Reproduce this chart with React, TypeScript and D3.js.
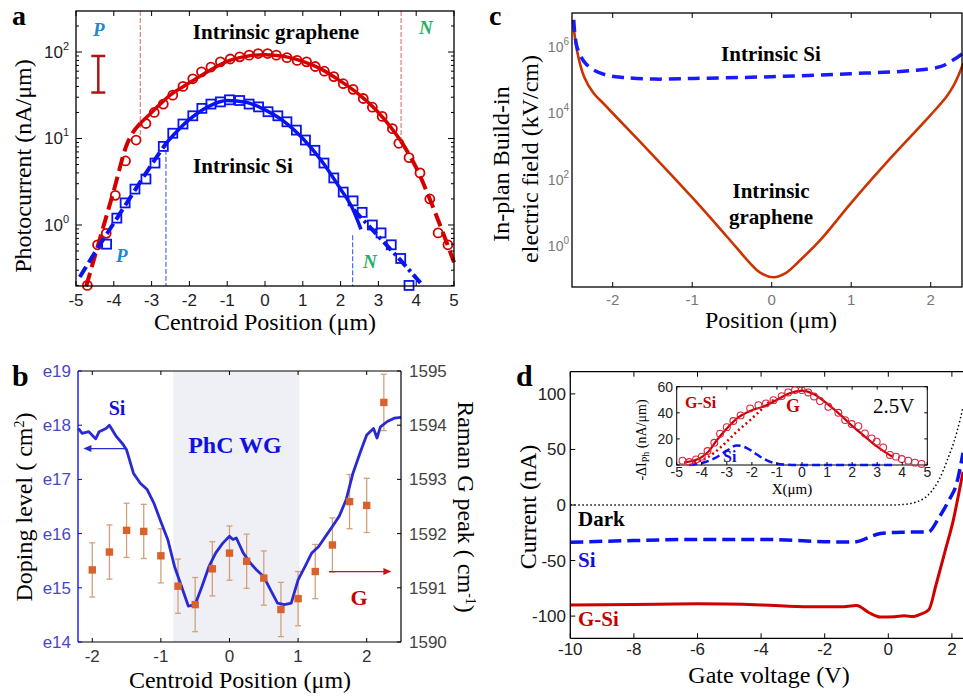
import React from "react";
import * as d3 from "d3";

const SERIF = "'Liberation Serif', 'Times New Roman', serif";
const SANS = "'Liberation Sans', Arial, sans-serif";

// ---------- panel a : photocurrent vs centroid position ----------
const aGrX = [-4.70, -4.43, -4.2, -3.96, -3.69, -3.41, -3.15, -2.93, -2.69, -2.44, -2.17, -1.91, -1.68, -1.43, -1.18, -0.92, -0.67, -0.42, -0.18, 0.07, 0.30, 0.58, 0.85, 1.10, 1.33, 1.57, 1.82, 2.07, 2.33, 2.60, 2.84, 3.10, 3.37, 3.54, 3.81, 4.10, 4.36, 4.58, 4.84];
const aGrY = [0.2, 0.59, 0.8, 2.2, 5.5, 9.6, 14.9, 20, 25, 31.7, 40, 49, 59, 67, 77, 83, 88, 92, 96, 96, 92, 86, 80, 77, 68, 60, 52, 43, 37, 29, 23, 18, 13, 8.8, 6.0, 4.0, 2.0, 0.81, 0.59];
const aSiX = [-4.19, -3.92, -3.70, -3.44, -3.15, -2.91, -2.69, -2.44, -2.17, -1.91, -1.67, -1.43, -1.18, -0.94, -0.67, -0.42, -0.17, 0.08, 0.34, 0.58, 0.83, 1.07, 1.32, 1.56, 1.82, 2.07, 2.33, 2.57, 2.84, 3.07, 3.34, 3.59, 3.81];
const aSiY = [0.6, 1.2, 1.8, 2.6, 3.4, 5.2, 8.1, 11.5, 14.7, 18.3, 22.3, 25, 26.5, 28, 27.5, 25, 23.2, 20.4, 18.3, 15.6, 12.5, 9.6, 7.3, 5.2, 3.5, 2.4, 1.9, 1.4, 1.0, 0.81, 0.59, 0.41, 0.2];
// fits (left dashed, solid, right dashed)
const aGrFitLX = [-4.73, -4.4, -4.0, -3.66, -3.3];
const aGrFitLY = [0.195, 0.62, 2.5, 8.4, 15];
const aGrFitX = [-3.3, -3.0, -2.5, -2.0, -1.5, -1.0, -0.5, 0, 0.5, 1.0, 1.5, 2.0, 2.5, 3.0, 3.3, 3.6];
const aGrFitY = [15, 20, 32, 44, 60, 78, 89, 93, 89, 78, 63, 46, 32, 20, 14, 9.3];
const aGrFitRX = [3.6, 4.0, 4.5, 5.0];
const aGrFitRY = [9.3, 4.6, 1.4, 0.37];
const aSiFitLX = [-4.9, -4.5, -4.0, -3.5, -3.0, -2.6];
const aSiFitLY = [0.25, 0.48, 1.05, 2.3, 5.0, 9.0];
const aSiFitX = [-2.6, -2.0, -1.5, -1.0, -0.5, 0, 0.5, 1.0, 1.5, 2.0, 2.3, 2.54];
const aSiFitY = [9.0, 16.6, 23.4, 27.5, 26.3, 21.4, 15.8, 10, 5.5, 2.6, 1.6, 0.89];
const aSiFitRX = [2.35, 3.0, 3.5, 4.13];
const aSiFitRY = [1.5, 0.74, 0.43, 0.21];
const aXTicks = [-5, -4, -3, -2, -1, 0, 1, 2, 3, 4, 5];
const aYTicks = [1, 10, 100];

// ---------- panel b : doping level and Raman G peak ----------
const bSiX = [-2.2, -2.15, -2.05, -1.95, -1.9, -1.8, -1.75, -1.65, -1.55, -1.5, -1.4, -1.3, -1.2, -1.1, -1.0, -0.9, -0.8, -0.7, -0.6, -0.5, -0.4, -0.3, -0.2, -0.1, 0, 0.05, 0.1, 0.2, 0.3, 0.4, 0.5, 0.6, 0.7, 0.8, 0.9, 1.0, 1.1, 1.2, 1.3, 1.4, 1.5, 1.6, 1.7, 1.8, 1.9, 2.0, 2.1, 2.15, 2.2, 2.3, 2.4, 2.5];
const bSiY = [8.7e17, 7.1e17, 7.6e17, 5.6e17, 7.6e17, 8.7e17, 1e18, 6.2e17, 4.4e17, 3.5e17, 1.3e17, 8.5e16, 6.5e16, 3.6e16, 1.66e16, 7.8e15, 2.45e15, 1.07e15, 4.6e14, 4.9e14, 1.07e15, 2.45e15, 4.4e15, 6.6e15, 8.9e15, 7.8e15, 8.3e15, 4.4e15, 2.9e15, 2.1e15, 1.6e15, 9.1e14, 5.2e14, 4.9e14, 5.2e14, 1.4e15, 2.45e15, 4.4e15, 5.8e15, 8.9e15, 1.35e16, 2.1e16, 4.2e16, 1.3e17, 3.0e17, 6.6e17, 8.7e17, 5.8e17, 9.3e17, 1.17e18, 1.35e18, 1.4e18];
const bGX = [-2, -1.75, -1.5, -1.25, -1, -0.75, -0.5, -0.25, 0, 0.25, 0.5, 0.75, 1, 1.25, 1.5, 1.75, 2, 2.25];
const bGY = [1591.33, 1591.66, 1592.06, 1592.04, 1591.59, 1591.03, 1590.69, 1591.35, 1591.64, 1591.49, 1591.18, 1590.60, 1590.80, 1591.30, 1591.79, 1592.59, 1592.52, 1594.42];
const bGErr = [0.5, 0.5, 0.5, 0.5, 0.5, 0.5, 0.5, 0.5, 0.5, 0.5, 0.5, 0.5, 0.5, 0.5, 0.5, 0.5, 0.5, 0.52];
const bShade = [-0.82, 1.02];
const bXTicks = [-2, -1, 0, 1, 2];
const bLeftTicks = [1e14, 1e15, 1e16, 1e17, 1e18, 1e19];
const bLeftLabels = ["e14", "e15", "e16", "e17", "e18", "e19"];
const bRightTicks = [1590, 1591, 1592, 1593, 1594, 1595];

// ---------- panel c : build-in electric field ----------
const cGrX = [-2.5, -2.45, -2.36, -2.24, -2.11, -2.0, -1.5, -1.0, -0.57, -0.27, -0.15, 0.02, 0.17, 0.36, 0.61, 1.0, 1.5, 2.0, 2.2, 2.28, 2.35, 2.41];
const cGrY = [6.5e6, 7.9e5, 1.26e5, 4.0e4, 1.9e4, 1.0e4, 560, 29, 2.0, 0.30, 0.16, 0.115, 0.15, 0.38, 1.5, 20, 457, 8.9e3, 3.2e4, 6.3e4, 1.4e5, 3.2e5];
const cSiX = [-2.49, -2.45, -2.36, -2.24, -2.07, -1.86, -1.48, -0.98, 0, 0.99, 1.79, 2.13, 2.28, 2.41];
const cSiY = [6.5e6, 1e6, 3.6e5, 2e5, 1.4e5, 1.2e5, 1.07e5, 1.12e5, 1.26e5, 1.55e5, 1.95e5, 2.57e5, 4e5, 6.5e5];
const cXTicks = [-2, -1, 0, 1, 2];
const cYTicks = [1, 100, 1e4, 1e6];
const cYExp = ["0", "2", "4", "6"];

// ---------- panel d : current vs gate voltage ----------
const dDarkX = [-10, -6, -2, 0, 0.4, 0.9, 1.35, 1.6, 1.85, 2.15, 2.35];
const dDarkY = [0, 0, 0, 0, 0.3, 2.9, 12, 23, 40, 65, 88];
const dSiX = [-10, -8, -6, -4, -2, -1.5, -1.0, -0.6, -0.25, 0, 0.5, 1.0, 1.25, 1.6, 1.9, 2.15, 2.35];
const dSiY = [-33.6, -32, -31, -31, -33, -33.3, -33, -29, -25.6, -25, -24.5, -24.3, -24.3, -11, 4, 19.5, 47];
const dGSiX = [-10, -8, -6, -4, -2.5, -1.5, -1.0, -0.6, -0.25, 0.2, 0.5, 0.8, 1.0, 1.28, 1.5, 1.8, 2.05, 2.2, 2.35];
const dGSiY = [-90, -89.5, -89, -90, -91.6, -91.6, -90.5, -97, -100.8, -100.5, -99.8, -100.3, -98.5, -94, -72, -40, -13, 8, 30];
const dXTicks = [-10, -8, -6, -4, -2, 0, 2];
const dYTicks = [-100, -50, 0, 50, 100];
// inset
const iCircX = [-4.77, -4.5, -4.23, -4.0, -3.77, -3.5, -3.27, -3.0, -2.74, -2.45, -2.07, -1.74, -1.44, -1.14, -0.81, -0.55, -0.28, -0.01, 0.25, 0.48, 0.72, 1.05, 1.45, 1.72, 1.98, 2.25, 2.51, 2.78, 2.98, 3.24, 3.51, 3.75, 3.98, 4.24, 4.51, 4.77];
const iCircY = [3.3, 2.3, 4.3, 6.4, 10.7, 17, 24, 29, 33.7, 38, 43.4, 45.9, 47.2, 49.7, 52.8, 55.6, 57.4, 57.4, 55.6, 52.5, 49, 44.6, 40, 34.4, 31.4, 29.8, 24.2, 20.4, 17.9, 13.5, 7.7, 6.4, 4.6, 3.3, 1.8, 0.8];
const iFitX = [-4.7, -4.3, -4.0, -3.7, -3.4, -3.0, -2.5, -2.0, -1.5, -1.0, -0.5, 0, 0.5, 1.0, 1.5, 2.0, 2.5, 3.0, 3.3, 3.6];
const iFitY = [2, 3.5, 6, 11, 19, 28, 37, 42, 45, 50, 55, 57, 54, 47, 39, 30, 22, 14, 10, 6.5];
const iGX = [-4.3, -3.9, -3.54, -3.0, -2.74, -2.4, -2.07, -1.7, -1.28, -1.0];
const iGY = [2, 4.5, 8.9, 18, 23, 29, 34.4, 41, 48.5, 50];
const iSiX = [-4.5, -4.0, -3.5, -3.0, -2.6, -2.2, -1.8, -1.4, -1.0, -0.6, 0, 1, 2, 3, 3.7];
const iSiY = [0, 1.5, 5, 11, 15, 13, 8, 3.5, 1, 0.3, 0, 0, 0, 0, 0];
const iXTicks = [-5, -4, -3, -2, -1, 0, 1, 2, 3, 4, 5];
const iYTicks = [0, 20, 40, 60];

type Pt = [number, number];
const pts = (xs: number[], ys: number[]) => d3.zip(xs, ys) as Pt[];
const mkLine = (x: any, y: any, curve: any = d3.curveMonotoneX) =>
  d3.line<Pt>().x((d) => x(d[0])).y((d) => y(d[1])).curve(curve);

function PanelA() {
  const L = 76, R = 454, T = 11, B = 286;
  const x = d3.scaleLinear().domain([-5, 5]).range([L, R]);
  const y = d3.scaleLog().domain([0.197, 298]).range([B, T]);
  const ln = mkLine(x, y);
  const minor: number[] = [];
  for (let k = -1; k <= 2; k++)
    for (let m = 2; m <= 9; m++) {
      const v = m * Math.pow(10, k);
      if (v > 0.197 && v < 298) minor.push(v);
    }
  const red = "#d40000";
  const blue = "#0a14f0";
  return (
    <g>
      <text x={12} y={25} fontFamily={SERIF} fontWeight="bold" fontSize={28}>a</text>
      {/* vertical guide lines */}
      <line x1={x(-3.3)} x2={x(-3.3)} y1={T} y2={y(10)} stroke="#e06060" strokeWidth={1} strokeDasharray="5,2" />
      <line x1={x(3.6)} x2={x(3.6)} y1={T} y2={y(10)} stroke="#e06060" strokeWidth={1} strokeDasharray="5,2" />
      <line x1={x(-2.62)} x2={x(-2.62)} y1={y(8.9)} y2={B} stroke="#3344ee" strokeWidth={1} strokeDasharray="5,2" />
      <line x1={x(2.32)} x2={x(2.32)} y1={y(0.76)} y2={B} stroke="#3344ee" strokeWidth={1} strokeDasharray="5,2" />
      {/* error bar */}
      <g stroke="#b01515" strokeWidth={2.5}>
        <line x1={x(-4.41)} x2={x(-4.41)} y1={y(90)} y2={y(34)} />
        <line x1={x(-4.41) - 7} x2={x(-4.41) + 7} y1={y(90)} y2={y(90)} />
        <line x1={x(-4.41) - 7} x2={x(-4.41) + 7} y1={y(34)} y2={y(34)} />
      </g>
      {/* markers */}
      {pts(aGrX, aGrY).map((d, i) => (
        <circle key={"c" + i} cx={x(d[0])} cy={y(d[1])} r={4.5} fill="none" stroke={red} strokeWidth={1.8} />
      ))}
      {pts(aSiX, aSiY).map((d, i) => (
        <rect key={"s" + i} x={x(d[0]) - 4.5} y={y(d[1]) - 4.5} width={9} height={9} fill="none" stroke={blue} strokeWidth={1.8} />
      ))}
      {/* fits */}
      <path d={ln(pts(aGrFitX, aGrFitY)) || ""} fill="none" stroke={red} strokeWidth={3.5} />
      <path d={ln(pts(aGrFitLX, aGrFitLY)) || ""} fill="none" stroke={red} strokeWidth={4} strokeDasharray="14,6" />
      <path d={ln(pts(aGrFitRX, aGrFitRY)) || ""} fill="none" stroke={red} strokeWidth={4} strokeDasharray="14,6" />
      <path d={ln(pts(aSiFitX, aSiFitY)) || ""} fill="none" stroke={blue} strokeWidth={3.5} />
      <path d={ln(pts(aSiFitLX, aSiFitLY)) || ""} fill="none" stroke={blue} strokeWidth={4} strokeDasharray="12,5" />
      <path d={ln(pts(aSiFitRX, aSiFitRY)) || ""} fill="none" stroke={blue} strokeWidth={4} strokeDasharray="11,4,3,4" />
      {/* frame & ticks */}
      <rect x={L} y={T} width={R - L} height={B - T} fill="none" stroke="#000" strokeWidth={1.3} />
      {aXTicks.map((t) => (
        <g key={"xt" + t}>
          <line x1={x(t)} x2={x(t)} y1={B} y2={B - 5} stroke="#000" />
          <line x1={x(t)} x2={x(t)} y1={T} y2={T + 5} stroke="#000" />
          <text x={x(t)} y={306} textAnchor="middle" fontFamily={SANS} fontSize={17} fill="#222">{t}</text>
        </g>
      ))}
      {aYTicks.map((t, i) => (
        <g key={"yt" + t}>
          <line x1={L} x2={L + 6} y1={y(t)} y2={y(t)} stroke="#000" />
          <line x1={R} x2={R - 6} y1={y(t)} y2={y(t)} stroke="#000" />
          <text x={69} y={y(t) + 6} textAnchor="end" fontFamily={SANS} fontSize={17} fill="#222">
            10<tspan dy={-8} fontSize={11}>{i}</tspan>
          </text>
        </g>
      ))}
      {minor.map((t) => (
        <g key={"mt" + t}>
          <line x1={L} x2={L + 3} y1={y(t)} y2={y(t)} stroke="#000" />
          <line x1={R} x2={R - 3} y1={y(t)} y2={y(t)} stroke="#000" />
        </g>
      ))}
      {/* labels */}
      <text transform="translate(31,166) rotate(-90)" textAnchor="middle" fontFamily={SERIF} fontSize={24}>Photocurrent (nA/μm)</text>
      <text x={265} y={330} textAnchor="middle" fontFamily={SERIF} fontSize={24}>Centroid Position (μm)</text>
      <text x={276} y={39} textAnchor="middle" fontFamily={SERIF} fontWeight="bold" fontSize={21}>Intrinsic graphene</text>
      <text x={243} y={173} textAnchor="middle" fontFamily={SERIF} fontWeight="bold" fontSize={21}>Intrinsic Si</text>
      <text x={93} y={36} fontFamily={SERIF} fontWeight="bold" fontStyle="italic" fontSize={19} fill="#1e88d0">P</text>
      <text x={116} y={262} fontFamily={SERIF} fontWeight="bold" fontStyle="italic" fontSize={19} fill="#1e88d0">P</text>
      <text x={419} y={34} fontFamily={SERIF} fontWeight="bold" fontStyle="italic" fontSize={19} fill="#22b060">N</text>
      <text x={363} y={268} fontFamily={SERIF} fontWeight="bold" fontStyle="italic" fontSize={19} fill="#22b060">N</text>
    </g>
  );
}

function PanelB() {
  const L = 78, R = 401, T = 371, B = 642;
  const x = d3.scaleLinear().domain([-2.208, 2.5]).range([L, R]);
  const yL = d3.scaleLog().domain([1e14, 1e19]).range([B, T]);
  const yR = d3.scaleLinear().domain([1590, 1595]).range([B, T]);
  const siLine = mkLine(x, yL, d3.curveLinear);
  const arrY = yL(3.7e17);
  const arrY2 = yR(1591.3);
  return (
    <g>
      <rect x={x(bShade[0])} y={T} width={x(bShade[1]) - x(bShade[0])} height={B - T} fill="#eef0f6" />
      <text x={12} y={386} fontFamily={SERIF} fontWeight="bold" fontSize={30}>b</text>
      {/* error bars and squares */}
      {bGX.map((v, i) => {
        const cx = x(v);
        return (
          <g key={"g" + i}>
            <line x1={cx} x2={cx} y1={yR(bGY[i] - bGErr[i])} y2={yR(bGY[i] + bGErr[i])} stroke="#d4a07a" strokeWidth={1.3} />
            <line x1={cx - 3} x2={cx + 3} y1={yR(bGY[i] - bGErr[i])} y2={yR(bGY[i] - bGErr[i])} stroke="#d4a07a" strokeWidth={1.3} />
            <line x1={cx - 3} x2={cx + 3} y1={yR(bGY[i] + bGErr[i])} y2={yR(bGY[i] + bGErr[i])} stroke="#d4a07a" strokeWidth={1.3} />
          </g>
        );
      })}
      <path d={siLine(pts(bSiX, bSiY)) || ""} fill="none" stroke="#2a2ad2" strokeWidth={2.8} strokeLinejoin="round" />
      {bGX.map((v, i) => (
        <rect key={"q" + i} x={x(v) - 3.7} y={yR(bGY[i]) - 3.7} width={7.4} height={7.4} fill="#d8612c" />
      ))}
      {/* arrows */}
      <line x1={x(-1.49)} x2={x(-2.08)} y1={arrY} y2={arrY} stroke="#2a2ad2" strokeWidth={1.2} />
      <path d={`M${x(-2.13)},${arrY} l8,-3.5 l0,7 z`} fill="#2a2ad2" />
      <line x1={x(1.45)} x2={x(2.3)} y1={arrY2} y2={arrY2} stroke="#d01010" strokeWidth={1.2} />
      <path d={`M${x(2.36)},${arrY2} l-8,-3.5 l0,7 z`} fill="#d01010" />
      {/* frame */}
      <line x1={L} x2={R} y1={T} y2={T} stroke="#000" strokeWidth={1.2} />
      <line x1={L} x2={R} y1={B} y2={B} stroke="#000" strokeWidth={1.2} />
      <line x1={R} x2={R} y1={T} y2={B} stroke="#000" strokeWidth={1.2} />
      <line x1={L} x2={L} y1={T} y2={B} stroke="#0000ff" strokeWidth={1.3} />
      {bXTicks.map((t) => (
        <g key={"bx" + t}>
          <line x1={x(t)} x2={x(t)} y1={T} y2={T + 4} stroke="#000" />
          <line x1={x(t)} x2={x(t)} y1={B} y2={B - 4} stroke="#000" />
          <text x={x(t)} y={662} textAnchor="middle" fontFamily={SANS} fontSize={17} fill="#333">{t}</text>
        </g>
      ))}
      {bLeftTicks.map((t, i) => (
        <g key={"bl" + i}>
          <line x1={L} x2={L + 4} y1={yL(t)} y2={yL(t)} stroke="#0000ff" />
          <text x={71} y={yL(t) + 6} textAnchor="end" fontFamily={SANS} fontSize={17} fill="#4848c4">{bLeftLabels[i]}</text>
        </g>
      ))}
      {bRightTicks.map((t) => (
        <g key={"br" + t}>
          <line x1={R} x2={R - 4} y1={yR(t)} y2={yR(t)} stroke="#000" />
          <text x={409} y={yR(t) + 6} fontFamily={SANS} fontSize={17} fill="#444">{t}</text>
        </g>
      ))}
      {/* labels */}
      <text transform="translate(32,507) rotate(-90)" textAnchor="middle" fontFamily={SERIF} fontSize={24}>
        Doping level ( cm<tspan dy={-8} fontSize={14}>2</tspan><tspan dy={8}>)</tspan>
      </text>
      <text transform="translate(458,507) rotate(90)" textAnchor="middle" fontFamily={SERIF} fontSize={24}>
        Raman G peak ( cm<tspan dy={-8} fontSize={14}>-1</tspan><tspan dy={8}>)</tspan>
      </text>
      <text x={240} y={688} textAnchor="middle" fontFamily={SERIF} fontSize={24}>Centroid Position (μm)</text>
      <text x={117} y={415} textAnchor="middle" fontFamily={SERIF} fontWeight="bold" fontSize={20} fill="#1010e0">Si</text>
      <text x={235} y={453} textAnchor="middle" fontFamily={SERIF} fontWeight="bold" fontSize={24} fill="#1010e0">PhC WG</text>
      <text x={359} y={605} textAnchor="middle" fontFamily={SERIF} fontWeight="bold" fontSize={22} fill="#c80000">G</text>
    </g>
  );
}

function PanelC() {
  const L = 572, R = 962, T = 13, B = 287;
  const x = d3.scaleLinear().domain([-2.512, 2.406]).range([L, 963]);
  const y = d3.scaleLog().domain([Math.pow(10, -1.235), Math.pow(10, 7.02)]).range([B, T]);
  const ln = mkLine(x, y, d3.curveCatmullRom.alpha(0.5));
  return (
    <g>
      <text x={489} y={25} fontFamily={SERIF} fontWeight="bold" fontSize={28}>c</text>
      <path d={ln(pts(cGrX, cGrY)) || ""} fill="none" stroke="#cc3300" strokeWidth={2.6} />
      <path d={ln(pts(cSiX, cSiY)) || ""} fill="none" stroke="#1a1aff" strokeWidth={3.5} strokeDasharray="12,7" />
      <rect x={L} y={T} width={R - L} height={B - T} fill="none" stroke="#000" strokeWidth={1.3} />
      {cXTicks.map((t) => (
        <g key={"cx" + t}>
          <line x1={x(t)} x2={x(t)} y1={T} y2={T + 5} stroke="#000" />
          <line x1={x(t)} x2={x(t)} y1={B} y2={B - 5} stroke="#000" />
          <text x={x(t)} y={305} textAnchor="middle" fontFamily={SANS} fontSize={15} fill="#777">{t}</text>
        </g>
      ))}
      {cYTicks.map((t, i) => (
        <text key={"cy" + t} x={569} y={y(t) + 5} textAnchor="end" fontFamily={SANS} fontSize={14} fill="#777">
          10<tspan dy={-7} fontSize={10}>{cYExp[i]}</tspan>
        </text>
      ))}
      <text transform="translate(509,164) rotate(-90)" textAnchor="middle" fontFamily={SERIF} fontSize={24}>In-plan Build-in</text>
      <text transform="translate(538,159) rotate(-90)" textAnchor="middle" fontFamily={SERIF} fontSize={24}>electric field (kV/cm)</text>
      <text x={771} y={328} textAnchor="middle" fontFamily={SERIF} fontSize={24}>Position (μm)</text>
      <text x={771} y={61} textAnchor="middle" fontFamily={SERIF} fontWeight="bold" fontSize={21}>Intrinsic Si</text>
      <text x={771} y={198} textAnchor="middle" fontFamily={SERIF} fontWeight="bold" fontSize={21}>Intrinsic</text>
      <text x={771} y={224} textAnchor="middle" fontFamily={SERIF} fontWeight="bold" fontSize={21}>graphene</text>
    </g>
  );
}

function PanelD() {
  const L = 570.3, T = 371.7, B = 638.3, R = 963;
  const x = d3.scaleLinear().domain([-10, 0]).range([L, 888.3]);
  const y = d3.scaleLinear().domain([-120, 120]).range([B, T]);
  const ln = mkLine(x, y);
  // inset
  const iL = 676.7, iR = 927.3, iT = 386.7, iB = 465;
  const ix = d3.scaleLinear().domain([-5, 5]).range([iL, iR]);
  const iy = d3.scaleLinear().domain([0, 60]).range([iB, iT]);
  const iln = mkLine(ix, iy);
  return (
    <g>
      <text x={516} y={386} fontFamily={SERIF} fontWeight="bold" fontSize={30}>d</text>
      <path d={ln(pts(dDarkX, dDarkY)) || ""} fill="none" stroke="#000" strokeWidth={1.5} strokeDasharray="1.5,2.5" />
      <path d={ln(pts(dSiX, dSiY)) || ""} fill="none" stroke="#0a14f0" strokeWidth={3.5} strokeDasharray="13,6" />
      <path d={ln(pts(dGSiX, dGSiY)) || ""} fill="none" stroke="#d00000" strokeWidth={3} />
      <line x1={L} x2={R} y1={T} y2={T} stroke="#000" strokeWidth={1.3} />
      <line x1={L} x2={R} y1={B} y2={B} stroke="#000" strokeWidth={1.3} />
      <line x1={L} x2={L} y1={T} y2={B} stroke="#000" strokeWidth={1.3} />
      {dXTicks.map((t) => (
        <g key={"dx" + t}>
          <line x1={x(t)} x2={x(t)} y1={T} y2={T + 5} stroke="#000" />
          <line x1={x(t)} x2={x(t)} y1={B} y2={B - 5} stroke="#000" />
          <text x={x(t)} y={655} textAnchor="middle" fontFamily={SANS} fontSize={17} fill="#222">{t}</text>
        </g>
      ))}
      {dYTicks.map((t) => (
        <g key={"dy" + t}>
          <line x1={L} x2={L + 5} y1={y(t)} y2={y(t)} stroke="#000" />
          <text x={566} y={y(t) + 6} textAnchor="end" fontFamily={SANS} fontSize={17} fill="#222">{t}</text>
        </g>
      ))}
      <text transform="translate(536,507) rotate(-90)" textAnchor="middle" fontFamily={SERIF} fontSize={24}>Current (nA)</text>
      <text x={769} y={683} textAnchor="middle" fontFamily={SERIF} fontSize={24}>Gate voltage (V)</text>
      <text x={578} y={526} fontFamily={SERIF} fontWeight="bold" fontSize={21}>Dark</text>
      <text x={578} y={567} fontFamily={SERIF} fontWeight="bold" fontSize={21} fill="#1010e0">Si</text>
      <text x={578} y={626} fontFamily={SERIF} fontWeight="bold" fontSize={21} fill="#c80000">G-Si</text>

      {/* inset */}
      <rect x={iL} y={iT} width={iR - iL} height={iB - iT} fill="#fff" stroke="#000" strokeWidth={1} />
      <path d={iln(pts(iSiX, iSiY)) || ""} fill="none" stroke="#0a14f0" strokeWidth={2.5} strokeDasharray="8,4" />
      <path d={iln(pts(iGX, iGY)) || ""} fill="none" stroke="#d00000" strokeWidth={2.5} strokeDasharray="2,3" />
      <path d={iln(pts(iFitX, iFitY)) || ""} fill="none" stroke="#c80000" strokeWidth={2.2} />
      {pts(iCircX, iCircY).map((d, i) => (
        <circle key={"ic" + i} cx={ix(d[0])} cy={iy(d[1])} r={3.4} fill="none" stroke="#dd2040" strokeWidth={1.1} />
      ))}
      {iXTicks.map((t) => (
        <g key={"ix" + t}>
          <line x1={ix(t)} x2={ix(t)} y1={iB} y2={iB - 3} stroke="#000" />
          <line x1={ix(t)} x2={ix(t)} y1={iT} y2={iT + 3} stroke="#000" />
          <text x={ix(t)} y={477} textAnchor="middle" fontFamily={SANS} fontSize={14} fill="#222">{t}</text>
        </g>
      ))}
      {iYTicks.map((t) => (
        <g key={"iy" + t}>
          <line x1={iL} x2={iL + 3} y1={iy(t)} y2={iy(t)} stroke="#000" />
          <line x1={iR} x2={iR - 3} y1={iy(t)} y2={iy(t)} stroke="#000" />
          <text x={673} y={iy(t) + (t === 0 ? 2 : 5)} textAnchor="end" fontFamily={SANS} fontSize={14} fill="#222">{t}</text>
        </g>
      ))}
      <text transform="translate(646,440) rotate(-90)" textAnchor="middle" fontFamily={SERIF} fontSize={14}>
        -ΔI<tspan dy={3} fontSize={10}>Ph</tspan><tspan dy={-3}> (nA/μm)</tspan>
      </text>
      <text x={792} y={494} textAnchor="middle" fontFamily={SERIF} fontSize={15}>X(μm)</text>
      <text x={685} y={408} fontFamily={SERIF} fontWeight="bold" fontSize={16} fill="#c80000">G-Si</text>
      <text x={786} y={412} fontFamily={SERIF} fontWeight="bold" fontSize={18} fill="#c80000">G</text>
      <text x={723} y={462} fontFamily={SERIF} fontWeight="bold" fontSize={16} fill="#1010e0">Si</text>
      <text x={873} y={413} fontFamily={SERIF} fontSize={21}>2.5V</text>
    </g>
  );
}

export default function App() {
  return (
    <svg width={963} height={697} style={{ position: "absolute", left: 0, top: 0, background: "#fff" }}>
      <rect width={963} height={697} fill="#fff" />
      <PanelA />
      <PanelB />
      <PanelC />
      <PanelD />
    </svg>
  );
}
